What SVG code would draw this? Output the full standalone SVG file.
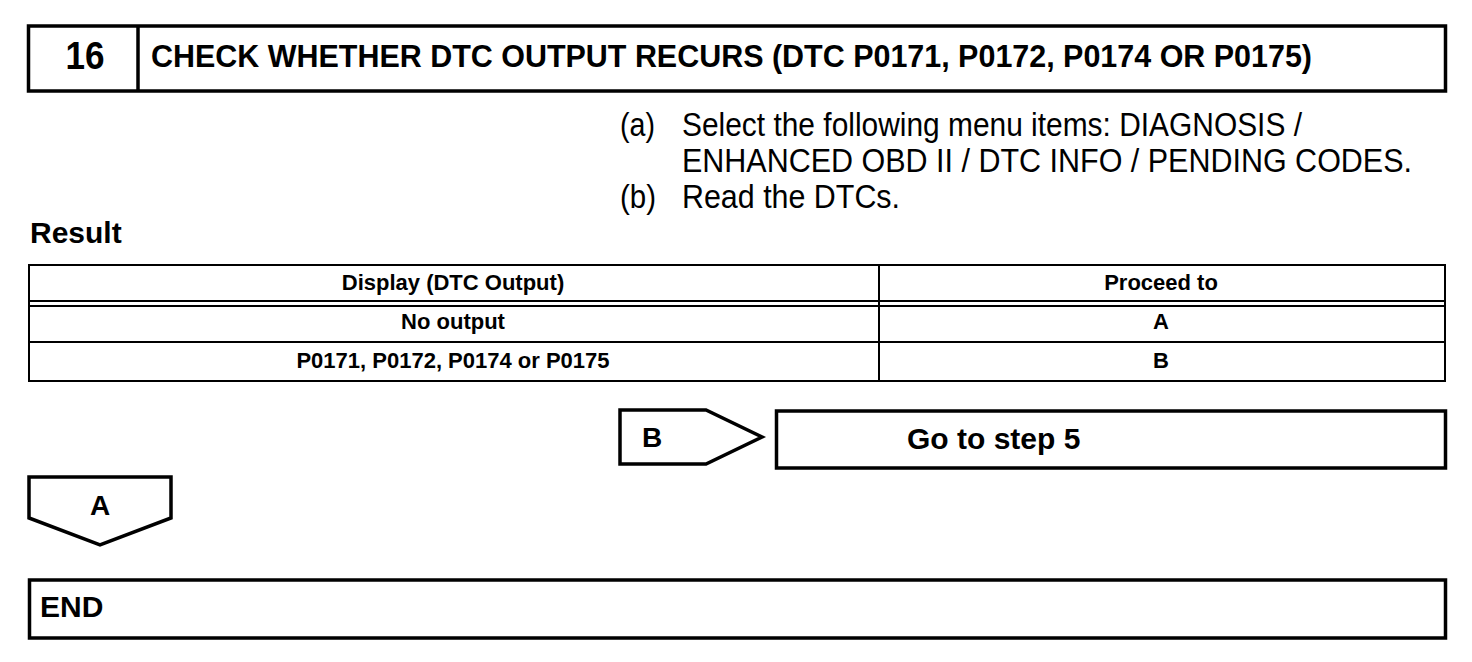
<svg xmlns="http://www.w3.org/2000/svg" width="1472" height="662" viewBox="0 0 1472 662">
<style>
.b{font-family:"Liberation Sans",Arial,sans-serif;font-weight:bold;fill:#000}
.r{font-family:"Liberation Sans",Arial,sans-serif;fill:#000}
.box{fill:#fff;stroke:#000;stroke-width:3.5}
.tl{stroke:#000;stroke-width:2;fill:none}
</style>
<rect width="1472" height="662" fill="#fff"/>
<g id="header">
<rect class="box" x="28.5" y="26" width="1417" height="65"/>
<line x1="138" y1="26" x2="138" y2="91" stroke="#000" stroke-width="3.5"/>
<text class="b" x="85" y="69" font-size="38" text-anchor="middle" textLength="39" lengthAdjust="spacingAndGlyphs">16</text>
<text class="b" x="151" y="67" font-size="31" textLength="1161" lengthAdjust="spacingAndGlyphs">CHECK WHETHER DTC OUTPUT RECURS (DTC P0171, P0172, P0174 OR P0175)</text>
</g>
<g id="instructions">
<text class="r" x="620" y="136" font-size="33" textLength="35" lengthAdjust="spacingAndGlyphs">(a)</text>
<text class="r" x="682" y="136" font-size="33" textLength="620" lengthAdjust="spacingAndGlyphs">Select the following menu items: DIAGNOSIS /</text>
<text class="r" x="682" y="172" font-size="33" textLength="730" lengthAdjust="spacingAndGlyphs">ENHANCED OBD II / DTC INFO / PENDING CODES.</text>
<text class="r" x="620" y="208" font-size="33" textLength="36" lengthAdjust="spacingAndGlyphs">(b)</text>
<text class="r" x="682" y="208" font-size="33" textLength="218" lengthAdjust="spacingAndGlyphs">Read the DTCs.</text>
</g>
<g id="result-table">
<text class="b" x="30" y="243" font-size="30">Result</text>
<rect class="tl" x="29" y="265" width="1416" height="116"/>
<line class="tl" x1="29" y1="301" x2="1445" y2="301"/>
<line class="tl" x1="29" y1="306" x2="1445" y2="306"/>
<line class="tl" x1="29" y1="342" x2="1445" y2="342"/>
<line class="tl" x1="879" y1="265" x2="879" y2="381"/>
<text class="b" x="453" y="290" font-size="22" text-anchor="middle">Display (DTC Output)</text>
<text class="b" x="1161" y="290" font-size="22" text-anchor="middle">Proceed to</text>
<text class="b" x="453" y="329" font-size="22" text-anchor="middle">No output</text>
<text class="b" x="1161" y="329" font-size="22" text-anchor="middle">A</text>
<text class="b" x="453" y="368" font-size="22" text-anchor="middle">P0171, P0172, P0174 or P0175</text>
<text class="b" x="1161" y="368" font-size="22" text-anchor="middle">B</text>
</g>
<g id="branch-b">
<path class="box" d="M620,410 H706 L762,437 L706,464 H620 Z"/>
<text class="b" x="652" y="447" font-size="28" text-anchor="middle">B</text>
</g>
<g id="go-to-step-5">
<rect class="box" x="776.5" y="411" width="669" height="57"/>
<text class="b" x="907" y="449" font-size="30">Go to step 5</text>
</g>
<g id="branch-a">
<path class="box" d="M29,477 H171 V518 L100,545 L29,518 Z"/>
<text class="b" x="100" y="515" font-size="28" text-anchor="middle">A</text>
</g>
<g id="end">
<rect class="box" x="29.5" y="580" width="1416" height="58"/>
<text class="b" x="40" y="617" font-size="30">END</text>
</g>
<g id="connectors"/>
</svg>
